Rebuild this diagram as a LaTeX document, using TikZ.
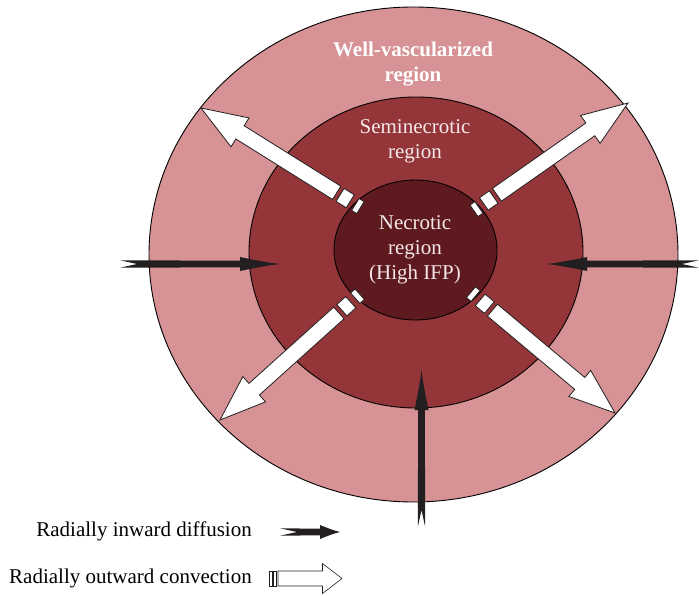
\documentclass[tikz,border=0pt]{standalone}
\usepackage{fontspec}
\setmainfont{Liberation Serif}
\definecolor{outerzone}{HTML}{D69295}
\definecolor{midzone}{HTML}{943639}
\definecolor{corezone}{HTML}{5F1A20}
\definecolor{ink}{HTML}{231F20}
\definecolor{paletext}{HTML}{F4E8E8}
\tikzset{
  zone/.style={draw=black, line width=0.9pt},
  label/.style={inner sep=0pt, align=center, font=\fontsize{21}{25}\selectfont},
  keytext/.style={inner sep=0pt, anchor=base east, font=\fontsize{21}{25}\selectfont},
  hollow/.style={fill=white, draw=ink, line width=0.8pt, line join=miter},
  % outward convection arrow: tip at the origin, pointing along +x
  pics/outarrow/.style={code={
    \path[hollow] (0,0) -- (-46,17) -- (-46,7.8) -- (-160,7.8) -- (-160,-7.8)
                  -- (-46,-7.8) -- (-46,-17) -- cycle;
    \path[hollow] (-176,-7.6) rectangle (-164,7.6);
    \path[hollow] (-188,-7) rectangle (-182,7);
  }},
  % inward diffusion arrow: swallow tail, concave head; #1 length, #2 head length
  pics/inarrow/.style 2 args={code={
    \fill[ink] (0,0) .. controls (-0.35*#2,1.6) and (-0.7*#2,4.6) .. (-#2,7)
               -- (-#2,3.3) -- (-#1,3.7) -- (-#1+17,0) -- (-#1,-3.7) -- (-#2,-3.3)
               -- (-#2,-7) .. controls (-0.7*#2,-4.6) and (-0.35*#2,-1.6) .. (0,0) -- cycle;
  }},
}
\begin{document}
\begin{tikzpicture}[x=1pt, y=-1pt]
\useasboundingbox (0,0) rectangle (699,596);

% tumour zones
\path[zone, fill=outerzone] (413.5,254.5) ellipse [x radius=264.5pt, y radius=247.5pt];
\path[zone, fill=midzone] (416,252.5) ellipse [x radius=167pt, y radius=155.5pt];
\path[zone, fill=corezone] (415.5,250) ellipse [x radius=81.5pt, y radius=70pt];

% radially outward convection
\coordinate (tipNE) at (628,103);
\coordinate (tipNW) at (201,108);
\coordinate (tipSW) at (220,420);
\coordinate (tipSE) at (615,413);
\pic[rotate=35] at (tipNE) {outarrow};
\pic[rotate=148] at (tipNW) {outarrow};
\pic[rotate=222] at (tipSW) {outarrow};
\pic[rotate=-40] at (tipSE) {outarrow};

% zone labels
\node[label, text=white, font=\fontsize{21}{25}\selectfont\bfseries] (wellvasc) at (413,64.5)
  {Well-vascularized\\region};
\node[label, text=paletext] (seminec) at (415,141.5) {Seminecrotic\\region};
\node[label, text=paletext] (necrotic) at (415,250) {Necrotic\\region\\(High IFP)};

% radially inward diffusion
\coordinate (tipW) at (280,264);
\coordinate (tipE) at (547,264);
\coordinate (tipS) at (421.5,370);
\pic at (tipW) {inarrow={160}{40}};
\pic[rotate=180] at (tipE) {inarrow={152}{40}};
\pic[rotate=90] at (tipS) {inarrow={157}{40}};

% key
\node[keytext] (keyin) at (252,536) {Radially inward diffusion};
\node[keytext] (keyout) at (252,583) {Radially outward convection};
\coordinate (keyintip) at (340,532);
\pic at (keyintip) {inarrow={60}{20}};
\coordinate (keyouttip) at (342,578.5);
\path[hollow, line width=0.6pt] (keyouttip) -- ++(-19.5,15) -- ++(0,-7.5) -- ++(-44.5,0)
  -- ++(0,-15) -- ++(44.5,0) -- ++(0,-7.5) -- cycle;
\path[hollow, line width=0.6pt] (273.5,571) rectangle (276.5,586);
\path[hollow, line width=0.6pt] (269.5,571) rectangle (272.5,586);
\end{tikzpicture}
\end{document}
